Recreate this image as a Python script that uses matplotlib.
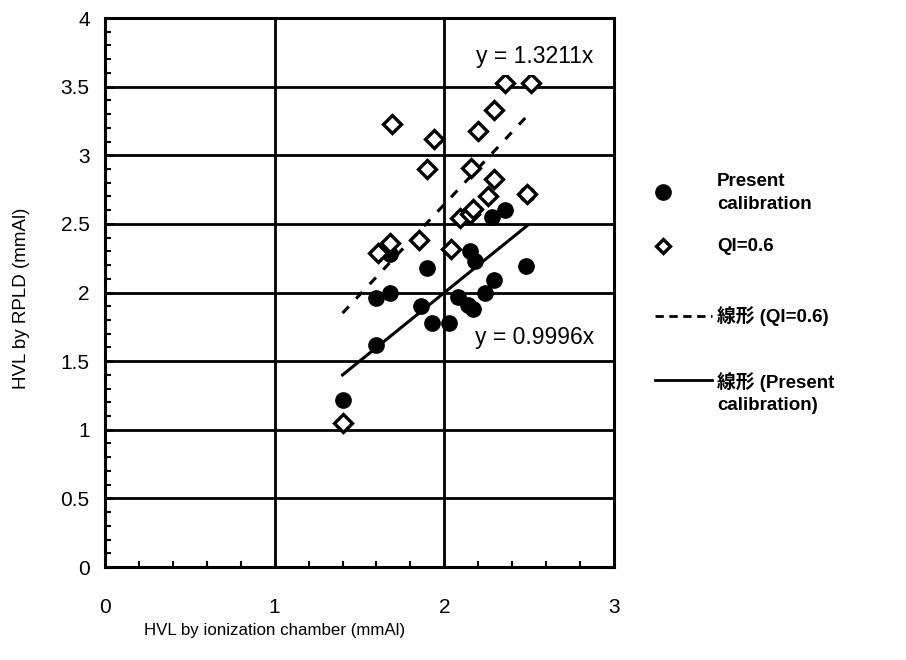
import numpy as np
import matplotlib
matplotlib.use('Agg')
import matplotlib.pyplot as plt
from matplotlib.lines import Line2D

plt.rcParams['font.family'] = ['Liberation Sans', 'Noto Sans CJK JP', 'DejaVu Sans']

# HVL measured by ionization chamber (x) vs RPLD (y), mmAl
present_x = [1.40, 1.60, 1.60, 1.68, 1.68, 1.86, 1.90, 1.93, 2.03, 2.08,
             2.14, 2.17, 2.15, 2.18, 2.24, 2.29, 2.28, 2.36, 2.49, 2.48]
present_y = [1.22, 1.62, 1.96, 2.00, 2.28, 1.90, 2.18, 1.78, 1.78, 1.97,
             1.91, 1.88, 2.30, 2.23, 2.00, 2.09, 2.55, 2.60, 2.72, 2.19]

qi_x = [1.40, 1.61, 1.68, 1.69, 1.85, 1.90, 1.94, 2.04, 2.09, 2.15,
        2.17, 2.16, 2.20, 2.26, 2.29, 2.29, 2.36, 2.51, 2.49]
qi_y = [1.05, 2.29, 2.36, 3.23, 2.38, 2.90, 3.12, 2.32, 2.54, 2.57,
        2.61, 2.91, 3.18, 2.70, 2.83, 3.33, 3.53, 3.53, 2.72]

slope_qi = 1.3211
slope_present = 0.9996

x_ticks = [0, 1, 2, 3]
y_ticks = [0, 0.5, 1, 1.5, 2, 2.5, 3, 3.5, 4]
y_ticklabels = ['0', '0.5', '1', '1.5', '2', '2.5', '3', '3.5', '4']

W, H = 906, 660
fig = plt.figure(figsize=(W / 100, H / 100), dpi=100)
ax = fig.add_axes([0.1159, 0.1409, 0.5618, 0.8318])

for y in y_ticks[1:-1]:
    ax.axhline(y, color='k', lw=2, zorder=1)
for x in x_ticks[1:-1]:
    ax.axvline(x, color='k', lw=2, zorder=1)

xs = np.array([min(present_x), max(present_x)])
ax.plot(xs, slope_qi * xs, color='k', lw=2.2, ls=(0, (3, 3.5)), zorder=2)
ax.plot(xs, slope_present * xs, color='k', lw=2.2, zorder=2)

ax.plot(present_x, present_y, 'o', color='k', markersize=11, zorder=3)
ax.plot(qi_x, qi_y, 'D', markerfacecolor='white', markeredgecolor='k',
        markersize=9, markeredgewidth=2.4, zorder=3)

ax.text(2.53, 3.72, 'y = 1.3211x', fontsize=16.5, ha='center', va='center', zorder=5,
        bbox=dict(facecolor='white', edgecolor='none', pad=5))
ax.text(2.53, 1.67, 'y = 0.9996x', fontsize=16.5, ha='center', va='center', zorder=5,
        bbox=dict(facecolor='white', edgecolor='none', pad=1))

ax.set_xlim(0, 3)
ax.set_ylim(0, 4)
ax.set_xticks(x_ticks)
ax.set_yticks(y_ticks)
ax.set_yticklabels(y_ticklabels)
ax.set_xticks(np.arange(0, 3.01, 0.2), minor=True)
ax.set_yticks(np.arange(0, 4.01, 0.1), minor=True)
ax.tick_params(which='both', direction='in', color='k')
ax.tick_params(which='major', length=6, width=2, labelsize=15)
ax.tick_params(axis='y', which='major', pad=11)
ax.tick_params(axis='x', which='major', pad=22)
ax.tick_params(which='minor', length=4, width=1.5)
for s in ax.spines.values():
    s.set_linewidth(2.2)

ax.set_xlabel('HVL by ionization chamber (mmAl)', fontsize=12.2)
ax.xaxis.set_label_coords(0.334, -0.102)
ax.set_ylabel('HVL by RPLD (mmAl)', fontsize=13.5)
ax.yaxis.set_label_coords(-0.148, 0.49)


def px(x, y):
    return x / W, 1 - y / H


# legend drawn by hand to follow the spreadsheet layout
leg_font = dict(fontsize=13.5, fontweight='bold', ha='left', va='center', linespacing=1.45)
fig.add_artist(Line2D(*zip(px(663, 192)), ls='none', marker='o', color='k',
                      markersize=11, transform=fig.transFigure))
fig.text(*px(717, 193), 'Present\ncalibration', **leg_font)
fig.add_artist(Line2D(*zip(px(663, 246)), ls='none', marker='D', markerfacecolor='white',
                      markeredgecolor='k', markersize=7.5, markeredgewidth=2.4,
                      transform=fig.transFigure))
fig.text(*px(717, 246), 'QI=0.6', **leg_font)
fig.add_artist(Line2D(*zip(px(655, 316), px(712, 316)), color='k', lw=2, ls=(0, (3, 2)),
                      transform=fig.transFigure))
fig.text(*px(717, 316), '線形 (QI=0.6)', **leg_font)
fig.add_artist(Line2D(*zip(px(655, 380), px(712, 380)), color='k', lw=2,
                      transform=fig.transFigure))
fig.text(*px(717, 393), '線形 (Present\ncalibration)', **leg_font)

fig.savefig('out.png', dpi=100)
